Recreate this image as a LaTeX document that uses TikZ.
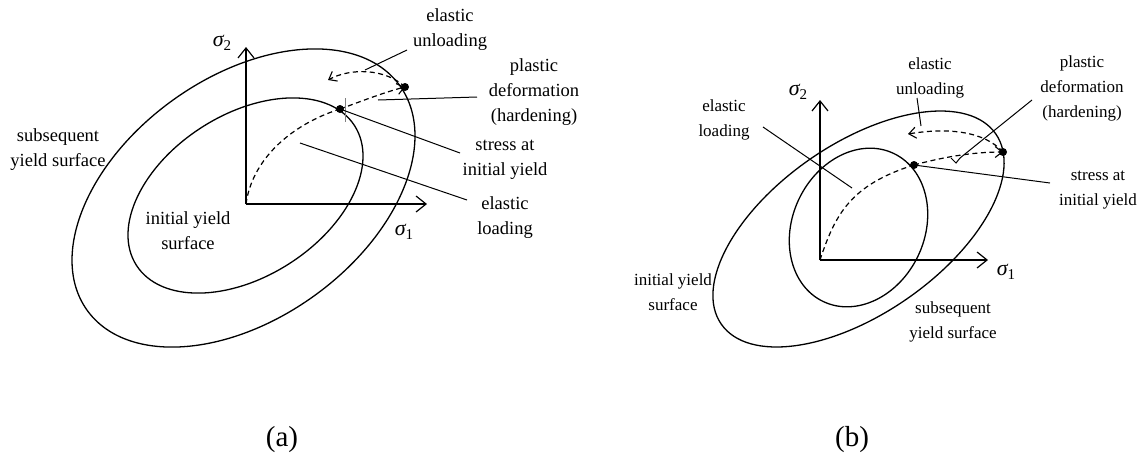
\documentclass[tikz,border=0pt]{standalone}
\usepackage{fontspec}
\setmainfont{Liberation Serif}
\usetikzlibrary{arrows.meta}
\newcommand{\sig}[1]{{\fontsize{22}{22}\selectfont\itshape σ}\raisebox{-4pt}{\fontsize{15}{15}\selectfont #1}}
\begin{document}
\begin{tikzpicture}[x=1pt,y=-1pt,
  curve/.style={line width=1.3pt},
  axis/.style={line width=1.3pt,-{Straight Barb[length=10pt,width=16pt,line width=1.2pt]}},
  leader/.style={line width=1pt},
  dashpath/.style={line width=1.2pt,dash pattern=on 5pt off 3.5pt},
  tipsmall/.style={-{Straight Barb[length=7pt,width=11pt,line width=1.1pt]}},
  lbla/.style={align=center,inner sep=0pt,font=\fontsize{18.5}{25}\selectfont},
  lblb/.style={align=center,inner sep=0pt,font=\fontsize{17}{25}\selectfont},
  siglbl/.style={inner sep=0pt},
  dot/.style={circle,fill=black,inner sep=0pt,minimum size=8pt},
  captxt/.style={inner sep=0pt,font=\fontsize{29}{33}\selectfont},
]
\useasboundingbox (0,0) rectangle (1145,459);
% ---------------- panel (a)
\coordinate (Oa) at (246,204);
\coordinate (Ya) at (246,47);
\coordinate (Xa) at (427,204);
\draw[axis] (Oa) -- (Ya);
\draw[axis] (Oa) -- (Xa);
\draw[curve,rotate around={35.7:(243.5,198)}] (243.5,198) ellipse [x radius=192.5pt, y radius=120.7pt];
\draw[curve,rotate around={32.6:(245.5,195.5)}] (245.5,195.5) ellipse [x radius=129.5pt, y radius=81pt];
\node[dot] (Ia) at (340,109) {};
\node[dot] (Pa) at (405,87) {};
\coordinate (Ua) at (328,80);
\draw[dashpath] (Oa) .. controls (252,160) and (290,125) .. (Ia.center);
\draw[dashpath,tipsmall] (Ia.center) .. controls (362,101) and (385,92) .. (Pa.center);
\draw[dashpath,tipsmall] (Pa.center) .. controls (385,68) and (350,68) .. (Ua);
\draw[line width=0.5pt,gray] (345,98) -- (345,122);
\node[lbla] (subA) at (58,150) {subsequent\\yield surface};
\node[lbla] (iniA) at (188,231) {initial yield\\surface};
\node[lbla] (unlA) at (450,30) {elastic\\unloading};
\node[lbla] (plaA) at (534,92) {plastic\\deformation\\(hardening)};
\node[lbla] (strA) at (505,160) {stress at\\initial yield};
\node[lbla] (elaA) at (505,218) {elastic\\loading};
\node[siglbl] (s2a) at (222,43) {\sig{2}};
\node[siglbl] (s1a) at (404,232) {\sig{1}};
\coordinate (unlA1) at (407,50); \coordinate (unlA2) at (365,70);
\coordinate (plaA1) at (477,97); \coordinate (plaA2) at (378,100);
\coordinate (strA1) at (460,153);
\coordinate (elaA1) at (467,200); \coordinate (elaA2) at (300,143);
\draw[leader] (unlA1) -- (unlA2);
\draw[leader] (plaA1) -- (plaA2);
\draw[leader] (Ia.center) -- (strA1);
\draw[leader] (elaA1) -- (elaA2);
\node[captxt] (capA) at (282,440) {(a)};
% ---------------- panel (b)
\coordinate (Ob) at (820,260);
\coordinate (Yb) at (820,100);
\coordinate (Xb) at (988,260);
\draw[axis] (Ob) -- (Yb);
\draw[axis] (Ob) -- (Xb);
\draw[curve,rotate around={34.7:(858.5,229)}] (858.5,229) ellipse [x radius=167pt, y radius=85pt];
\draw[curve,rotate around={64.6:(858.5,227.5)}] (858.5,227.5) ellipse [x radius=82pt, y radius=66pt];
\node[dot] (Ib) at (914,165) {};
\node[dot] (Pb) at (1003,152) {};
\coordinate (Ub) at (908,134);
\draw[dashpath] (Ob) .. controls (835,215) and (850,185) .. (Ib.center);
\draw[dashpath,tipsmall] (Ib.center) .. controls (940,158) and (970,152) .. (Pb.center);
\draw[dashpath,tipsmall] (Pb.center) .. controls (985,132) and (950,127) .. (Ub);
\node[lblb] (elaB) at (724,120) {elastic\\loading};
\node[lblb] (unlB) at (930,78) {elastic\\unloading};
\node[lblb] (plaB) at (1082,88) {plastic\\deformation\\(hardening)};
\node[lblb] (strB) at (1098,190) {stress at\\initial yield};
\node[lblb] (subB) at (953,322) {subsequent\\yield surface};
\node[lblb] (iniB) at (673,292) {initial yield\\surface};
\node[siglbl] (s2b) at (798,92) {\sig{2}};
\node[siglbl] (s1b) at (1006,272) {\sig{1}};
\coordinate (elaB1) at (763,127); \coordinate (elaB2) at (852,188);
\coordinate (unlB1) at (917,98); \coordinate (unlB2) at (921,126);
\coordinate (plaB1) at (1032,100); \coordinate (plaB2) at (960,158);
\coordinate (plaB3) at (956,163); \coordinate (plaB4) at (951,158);
\coordinate (strB1) at (1050,183);
\draw[leader] (elaB1) -- (elaB2);
\draw[leader] (unlB1) -- (unlB2);
\draw[leader] (plaB1) -- (plaB2) -- (plaB3) -- (plaB4);
\draw[leader] (Ib.center) -- (strB1);
\node[captxt] (capB) at (852,440) {(b)};
\end{tikzpicture}
\end{document}
